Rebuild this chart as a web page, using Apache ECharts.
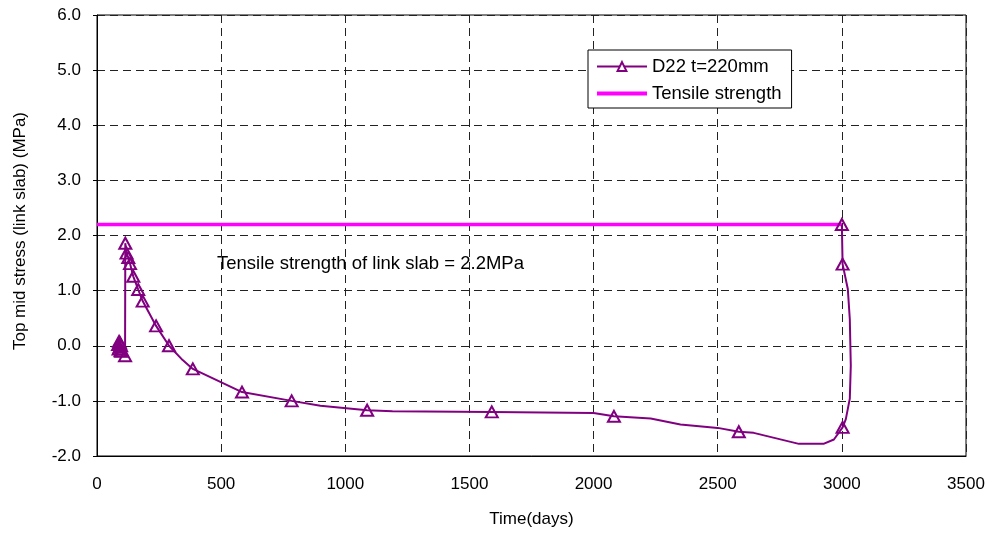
<!DOCTYPE html>
<html>
<head>
<meta charset="utf-8">
<script src="https://cdn.jsdelivr.net/npm/echarts@6/dist/echarts.min.js"></script>
<style>
  html, body { margin: 0; padding: 0; background: #fff; }
  #c { width: 998px; height: 533px; }
</style>
</head>
<body>
<div id="c"></div>
<script>
// values
const days = [85, 87, 89, 91, 93, 95, 97, 99, 113, 114, 119, 126, 133, 146, 166, 184, 238, 290, 345, 386,
  584, 784, 900, 1088, 1190, 1590, 2000, 2082, 2230, 2350, 2500, 2585, 2645, 2827, 2926, 2968,
  3003, 3016, 3032, 3036, 3032, 3024, 3003, 3000]
const stress = [0.02, -0.06, 0.08, -0.03, 0.05, -0.09, 0.0, -0.1, -0.18, 1.86, 1.68, 1.6, 1.49, 1.26, 1.02, 0.81, 0.36, 0.0, -0.26, -0.42,
  -0.84, -1.0, -1.09, -1.17, -1.19, -1.2, -1.22, -1.28, -1.32, -1.43, -1.49, -1.56, -1.58, -1.78, -1.78, -1.7,
  -1.48, -1.33, -0.96, -0.36, 0.48, 1.03, 1.48, 2.2]
// 1 = point drawn with a triangle marker
const marked = [1, 1, 1, 1, 1, 1, 1, 1, 1, 1, 1, 1, 1, 1, 1, 1, 1, 1, 0, 1,
  1, 1, 0, 1, 0, 1, 0, 1, 0, 0, 0, 1, 0, 0, 0, 0,
  1, 0, 0, 0, 0, 0, 1, 1]
const strengthDays = [0, 3000]
const strengthValue = [2.2, 2.2]

const FONT = 'Liberation Sans, Arial, sans-serif'
const purple = '#800080'

const d22 = days.map((d, i) => ({
  value: [d, stress[i]],
  symbol: marked[i] ? 'triangle' : 'none',
}))
const tensile = strengthDays.map((d, i) => [d, strengthValue[i]])

const chart = echarts.init(document.getElementById('c'))
chart.setOption({
  animation: false,
  textStyle: { fontFamily: FONT },
  grid: {
    left: 97, top: 15, right: 32, bottom: 76,
    show: true, borderColor: '#000', borderWidth: 1,
  },
  legend: {
    orient: 'vertical',
    left: 588,
    top: 50,
    backgroundColor: '#fff',
    borderColor: '#000',
    borderWidth: 1,
    borderRadius: 0,
    padding: [7, 10, 5, 7],
    itemWidth: 50,
    itemHeight: 11,
    itemGap: 8,
    textStyle: { fontFamily: FONT, fontSize: 18.5, color: '#000' },
    data: [
      { name: 'D22 t=220mm', itemStyle: { color: '#fff', borderColor: purple, borderWidth: 2 } },
      { name: 'Tensile strength', itemStyle: { color: 'rgba(0,0,0,0)', borderWidth: 0 }, lineStyle: { width: 4 } },
    ],
  },
  xAxis: {
    type: 'value',
    min: 0, max: 3500, interval: 500,
    name: 'Time(days)',
    nameLocation: 'middle',
    nameGap: 55,
    nameTextStyle: { fontFamily: FONT, fontSize: 17, color: '#000' },
    axisLine: { onZero: false, lineStyle: { color: '#000', width: 1 } },
    axisTick: { show: false },
    axisLabel: { color: '#000', fontSize: 17, margin: 20, formatter: v => String(v) },
    splitLine: { lineStyle: { color: '#222', type: [8, 5], width: 1 } },
  },
  yAxis: {
    type: 'value',
    min: -2, max: 6, interval: 1,
    axisLine: { show: true, lineStyle: { color: '#000', width: 1 } },
    axisTick: { show: true, length: 4, lineStyle: { color: '#000' } },
    axisLabel: { color: '#000', fontSize: 17, margin: 16, formatter: v => v.toFixed(1) },
    splitLine: { lineStyle: { color: '#222', type: [8, 5], width: 1 } },
  },
  graphic: [
    {
      type: 'text', left: 217, top: 254,
      style: { text: 'Tensile strength of link slab = 2.2MPa', font: '18.5px ' + FONT, fill: '#000' },
    },
    {
      type: 'text', x: 20, y: 231, rotation: Math.PI / 2,
      style: {
        text: 'Top mid stress (link slab) (MPa)', font: '17px ' + FONT, fill: '#000',
        align: 'center', verticalAlign: 'middle',
      },
    },
  ],
  series: [
    {
      name: 'D22 t=220mm',
      type: 'line',
      data: d22,
      z: 3,
      symbol: 'triangle',
      symbolSize: [12, 11],
      showAllSymbol: true,
      lineStyle: { color: purple, width: 2 },
      itemStyle: { color: 'rgba(255,255,255,0)', borderColor: purple, borderWidth: 2 },
    },
    {
      name: 'Tensile strength',
      type: 'line',
      data: tensile,
      z: 2,
      symbol: 'none',
      lineStyle: { color: '#ff00ff', width: 3.5 },
      itemStyle: { color: '#ff00ff' },
    },
  ],
})
</script>
</body>
</html>
